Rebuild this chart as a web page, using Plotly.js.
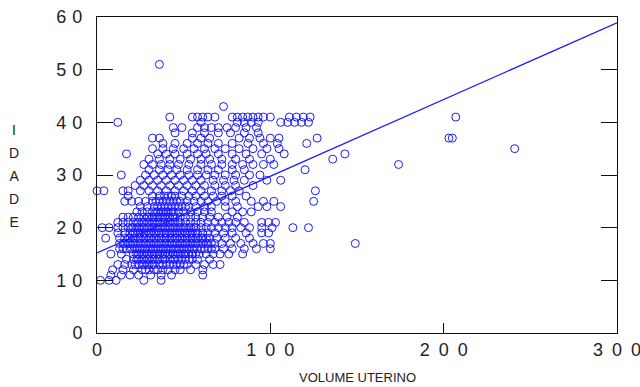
<!DOCTYPE html>
<html>
<head>
<meta charset="utf-8">
<script src="https://cdn.plot.ly/plotly-3.0.1.min.js"></script>
<style>html,body{margin:0;padding:0;background:#fff;}#chart{width:640px;height:387px;}</style>
</head>
<body>
<div id="chart"></div>
<script>
// Ages (IDADE) of each row of points
const rowAges = [10, 11, 12, 13, 14, 15, 16, 17, 18, 19, 20, 21, 22, 23, 24, 25, 26, 27, 28, 29, 30,
                 31, 32, 33, 34, 35, 36, 37, 38, 39, 40, 41, 43, 51];
// Uterine volumes (VOLUME UTERINO) of the points in each age row
const rowVolumes = [
  [2, 7, 11, 27, 37],
  [8, 14, 19, 24, 31, 37, 43, 61],
  [9, 15, 21, 26, 28, 30, 33, 35, 38, 41, 45, 48, 54, 61],
  [12, 16, 20, 22, 24, 26, 27, 29, 30, 32, 33, 36, 38, 40, 42, 44, 46, 48, 50, 52, 57, 62, 67, 71],
  [17, 21, 23, 24, 26, 27, 29, 30, 32, 33, 35, 36, 38, 39, 42, 44, 45, 47, 49, 51, 53, 55, 58, 65],
  [8, 14, 21, 23, 24, 26, 27, 29, 30, 32, 33, 35, 36, 38, 39, 41, 42, 44, 45, 47, 48, 50, 51, 53, 55, 57, 59, 63, 67, 71, 76, 84],
  [13, 15, 17, 19, 20, 22, 23, 25, 26, 28, 29, 31, 32, 34, 35, 37, 38, 40, 41, 43, 44, 46, 47, 49, 50, 52, 53, 55, 56, 58, 60, 62, 64, 66, 68, 73, 78, 85, 92, 100],
  [13, 15, 16, 18, 19, 21, 22, 24, 25, 27, 28, 30, 31, 33, 34, 36, 37, 39, 40, 42, 43, 45, 46, 48, 49, 51, 52, 54, 55, 57, 58, 60, 61, 63, 64, 66, 68, 72, 77, 83, 90, 96, 100, 149],
  [5, 13, 16, 18, 19, 21, 22, 24, 25, 27, 28, 30, 31, 33, 34, 36, 37, 39, 40, 42, 43, 45, 46, 48, 49, 51, 52, 54, 55, 57, 58, 60, 61, 63, 65, 69, 74, 80, 88],
  [12, 16, 19, 21, 22, 24, 25, 27, 28, 30, 31, 33, 34, 36, 37, 39, 40, 42, 43, 45, 46, 48, 49, 51, 52, 54, 55, 57, 58, 61, 64, 68, 73, 78, 86, 95, 99],
  [3, 7, 12, 15, 18, 20, 21, 23, 24, 26, 27, 29, 30, 32, 33, 35, 36, 38, 39, 41, 42, 44, 45, 47, 48, 50, 51, 53, 54, 56, 57, 60, 63, 66, 70, 74, 78, 83, 88, 95, 101, 113, 122],
  [12, 15, 18, 21, 23, 24, 26, 27, 29, 30, 32, 33, 35, 36, 38, 39, 41, 42, 44, 45, 47, 48, 51, 54, 57, 60, 64, 68, 72, 76, 80, 85, 95, 99, 103],
  [15, 18, 21, 24, 27, 29, 30, 32, 33, 35, 36, 38, 39, 41, 42, 44, 45, 48, 51, 54, 57, 61, 65, 70, 75, 81],
  [23, 26, 29, 32, 34, 35, 37, 38, 40, 41, 43, 44, 47, 50, 54, 58, 62, 66, 78, 84, 89],
  [25, 29, 33, 35, 37, 39, 41, 43, 45, 47, 49, 51, 53, 57, 62, 66, 74, 81, 93, 98, 106],
  [16, 20, 24, 28, 32, 34, 36, 38, 40, 42, 44, 46, 48, 52, 56, 60, 64, 69, 74, 80, 89, 96, 102, 125],
  [18, 32, 36, 39, 41, 43, 45, 49, 53, 57, 62, 67, 72, 78, 86],
  [0, 4, 15, 18, 25, 30, 35, 40, 45, 50, 55, 60, 66, 72, 77, 82, 126],
  [22, 27, 32, 37, 42, 47, 52, 57, 62, 68, 74, 80, 90],
  [25, 30, 35, 40, 45, 50, 55, 60, 67, 73, 79, 85, 98, 106],
  [14, 28, 33, 38, 43, 48, 53, 58, 63, 68, 74, 80, 88, 94],
  [30, 36, 41, 46, 52, 58, 64, 70, 78, 85, 120],
  [27, 32, 37, 42, 47, 53, 60, 66, 72, 78, 84, 90, 96, 102, 174],
  [30, 36, 42, 48, 54, 60, 65, 72, 80, 88, 100, 136],
  [17, 35, 40, 45, 52, 58, 63, 70, 78, 86, 95, 108, 143],
  [32, 38, 44, 50, 56, 62, 68, 74, 82, 90, 98, 105, 241],
  [38, 45, 52, 58, 64, 70, 78, 87, 96, 104, 121],
  [32, 36, 55, 60, 65, 82, 88, 94, 100, 105, 127, 203, 205],
  [45, 55, 62, 70, 77, 85, 93],
  [44, 49, 58, 62, 66, 70, 75, 80, 86, 92],
  [12, 60, 81, 85, 89, 93, 106, 110, 114, 118, 122],
  [42, 55, 58, 61, 64, 68, 78, 81, 84, 87, 90, 93, 96, 100, 111, 115, 119, 123, 207],
  [73],
  [36]
];
// Fitted regression line end points
const fitX = [0, 300];
const fitY = [15.2, 58.9];
// Tick values and labels
const xTickVals = [0, 100, 200, 300];
const xTickText = ['0', '1\u20020\u20020', '2\u20020\u20020', '3\u20020\u20020'];
const yTickVals = [0, 10, 20, 30, 40, 50, 60];
const yTickText = ['0', '1\u20040', '2\u20040', '3\u20040', '4\u20040', '5\u20040', '6\u20040'];

const volume = [];
const idade = [];
rowVolumes.forEach((row, i) => row.forEach(v => { volume.push(v); idade.push(rowAges[i]); }));

const blue = '#1a1aff';
const data = [
  {x: volume, y: idade, type: 'scatter', mode: 'markers',
   marker: {symbol: 'circle-open', size: 8, color: blue, line: {width: 1, color: blue}},
   hoverinfo: 'x+y', showlegend: false, cliponaxis: false},
  {x: fitX, y: fitY, type: 'scatter', mode: 'lines',
   line: {color: blue, width: 1.3}, showlegend: false}
];

const axisCommon = {
  showgrid: false, zeroline: false, showline: true, linecolor: '#111', linewidth: 1,
  ticks: 'inside', tickcolor: '#111', tickwidth: 1,
  tickfont: {family: 'Liberation Sans, Arial, sans-serif', size: 18, color: '#222'},
  tickmode: 'array', ticklabeloverflow: 'allow'
};

const layout = {
  width: 640, height: 387,
  margin: {l: 97, r: 23, t: 17, b: 54},
  paper_bgcolor: '#fff', plot_bgcolor: '#fff',
  font: {family: 'Liberation Sans, Arial, sans-serif', color: '#222'},
  xaxis: Object.assign({}, axisCommon, {
    range: [0, 300], tickvals: xTickVals, ticktext: xTickText, ticklen: 10,
    mirror: true, ticklabelstandoff: 0
  }),
  yaxis: Object.assign({}, axisCommon, {
    range: [0, 60], tickvals: yTickVals, ticktext: yTickText, ticklen: 16,
    mirror: 'ticks', ticklabelstandoff: 10
  }),
  annotations: [
    {text: 'VOLUME UTERINO', xref: 'paper', yref: 'paper', x: 0.5, y: -0.1424,
     xanchor: 'center', yanchor: 'middle', showarrow: false,
     font: {size: 13, color: '#222', family: 'Liberation Sans, Arial, sans-serif'}},
    {text: '<span style="font-size:14px">I</span><br><span style="font-size:14px">D</span><br><span style="font-size:14px">A</span><br><span style="font-size:14px">D</span><br><span style="font-size:14px">E</span>',
     xref: 'paper', yref: 'paper', x: -0.1596, y: 0.497,
     xanchor: 'center', yanchor: 'middle', showarrow: false, align: 'center',
     font: {size: 17.7, color: '#222', family: 'Liberation Sans, Arial, sans-serif'}}
  ]
};

Plotly.newPlot('chart', data, layout, {staticPlot: true, displayModeBar: false});
</script>
</body>
</html>
